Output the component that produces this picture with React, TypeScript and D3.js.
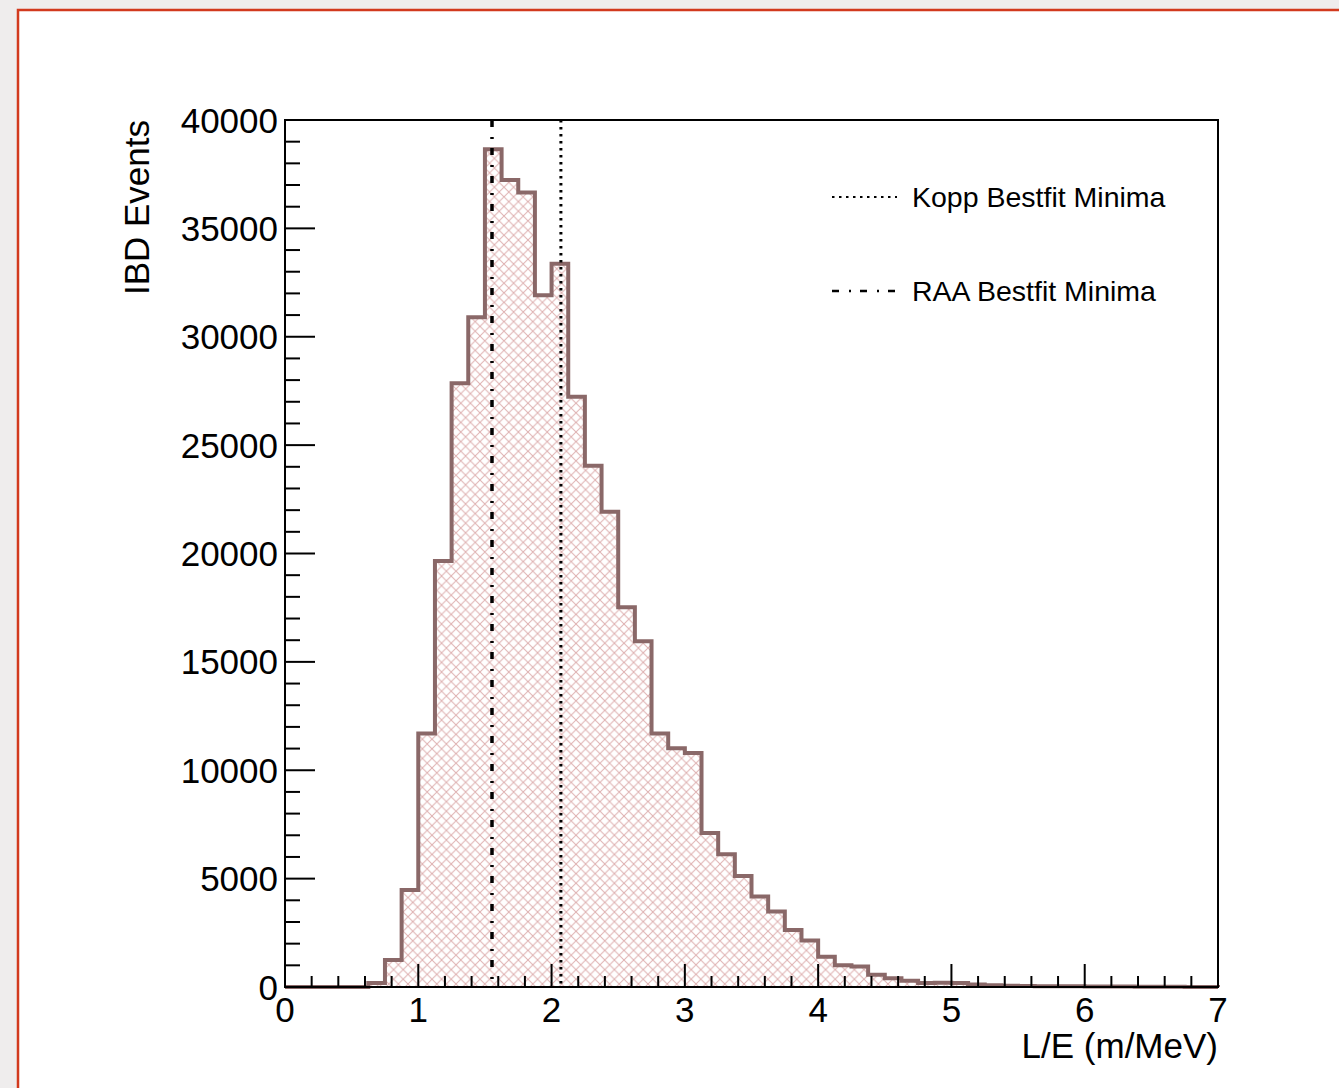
import React from "react";
import * as d3 from "d3";

// ---- data ----
const binLow = 0;
const binWidth = 0.125;
const counts: number[] = [
  0, 0, 0, 0, 0, 180, 1250, 4480, 11700, 19650, 27850, 30900, 38650, 37230,
  36650, 31920, 33370, 27230, 24050, 21930, 17520, 15950, 11700, 11010, 10800,
  7100, 6130, 5120, 4170, 3480, 2630, 2140, 1400, 1000, 950, 560, 400, 290,
  180, 200, 180, 120, 80, 60, 50, 40, 35, 30, 25, 20, 20, 15, 10, 10, 5, 5,
];
const xTicks = [0, 1, 2, 3, 4, 5, 6, 7];
const yTicks = [0, 5000, 10000, 15000, 20000, 25000, 30000, 35000, 40000];
const koppMin = 2.07;
const raaMin = 1.553;
const legendLabels = ["Kopp Bestfit Minima", "RAA Bestfit Minima"];

const W = 1339;
const H = 1088;
const F = { l: 285, r: 1218, t: 120, b: 987 };
const FONT = "'Liberation Sans', Arial, Helvetica, sans-serif";
const HIST = "#8a6868";
const HATCH = "#deb0b0";

export default function App() {
  const x = d3.scaleLinear().domain([0, 7]).range([F.l, F.r]);
  const y = d3.scaleLinear().domain([0, 40000]).range([F.b, F.t]);

  const pts: [number, number][] = [[0, 0]];
  counts.forEach((c, i) => {
    const lo = binLow + i * binWidth;
    pts.push([lo, c]);
    pts.push([lo + binWidth, c]);
  });
  pts.push([7, 0]);
  const line = d3
    .line<[number, number]>()
    .x((d) => x(d[0]))
    .y((d) => y(d[1]));
  const path = line(pts) || "";

  const xMinor = d3.range(0, 7.0001, 0.2).filter((v) => Math.abs(v - Math.round(v)) > 1e-6);
  const yMinor = d3.range(0, 40001, 1000).filter((v) => v % 5000 !== 0);

  const dashDot = "7 10 2 9";
  const dotted = "2.5 4.5";

  return (
    <svg
      width={W}
      height={H}
      style={{ position: "absolute", left: 0, top: 0, display: "block" }}
      fontFamily={FONT}
    >
      <defs>
        <pattern id="hatch" patternUnits="userSpaceOnUse" width={9.6} height={9.6}>
          <path d="M0,0 L9.6,9.6 M0,9.6 L9.6,0" stroke={HATCH} strokeWidth={1} />
        </pattern>
        <clipPath id="frameClip">
          <rect x={F.l} y={F.t} width={F.r - F.l} height={F.b - F.t} />
        </clipPath>
      </defs>
      <rect x={0} y={0} width={W} height={H} fill="#efeded" />
      <rect x={18} y={10} width={W + 20} height={H + 20} fill="#ffffff" stroke="#d23a1e" strokeWidth={2.5} />

      {/* frame */}
      <rect x={F.l} y={F.t} width={F.r - F.l} height={F.b - F.t} fill="none" stroke="#000" strokeWidth={2} />

      {/* histogram */}
      <path d={path + "Z"} fill="url(#hatch)" stroke="none" clipPath="url(#frameClip)" />
      <path d={path} fill="none" stroke={HIST} strokeWidth={4} strokeLinejoin="miter" />

      {/* vertical lines */}
      <line x1={x(raaMin)} x2={x(raaMin)} y1={F.t} y2={F.b} stroke="#000" strokeWidth={3.5} strokeDasharray={dashDot} />
      <line x1={x(koppMin)} x2={x(koppMin)} y1={F.t} y2={F.b} stroke="#000" strokeWidth={3} strokeDasharray={dotted} />

      {/* axes lines */}
      <line x1={F.l} x2={F.l} y1={F.t} y2={F.b} stroke="#000" strokeWidth={2} />
      <line x1={F.l} x2={F.r} y1={F.b} y2={F.b} stroke="#000" strokeWidth={2} />

      {/* x ticks */}
      {xTicks.map((t) => (
        <g key={"xt" + t}>
          <line x1={x(t)} x2={x(t)} y1={F.b} y2={F.b - 23} stroke="#000" strokeWidth={2} />
          <text x={x(t)} y={1022} fontSize={35} textAnchor="middle" fill="#000">
            {t}
          </text>
        </g>
      ))}
      {xMinor.map((t, i) => (
        <line key={"xm" + i} x1={x(t)} x2={x(t)} y1={F.b} y2={F.b - 11} stroke="#000" strokeWidth={2} />
      ))}

      {/* y ticks */}
      {yTicks.map((t) => (
        <g key={"yt" + t}>
          <line x1={F.l} x2={F.l + 30} y1={y(t)} y2={y(t)} stroke="#000" strokeWidth={2} />
          <text x={278} y={y(t) + 12.5} fontSize={35} textAnchor="end" fill="#000">
            {t}
          </text>
        </g>
      ))}
      {yMinor.map((t) => (
        <line key={"ym" + t} x1={F.l} x2={F.l + 15} y1={y(t)} y2={y(t)} stroke="#000" strokeWidth={2} />
      ))}

      {/* axis titles */}
      <text x={F.r} y={1058} fontSize={35} textAnchor="end" fill="#000">
        L/E (m/MeV)
      </text>
      <text
        transform={`translate(149, ${F.t}) rotate(-90)`}
        fontSize={35}
        textAnchor="end"
        fill="#000"
      >
        IBD Events
      </text>

      {/* legend */}
      <line x1={832} x2={897} y1={197} y2={197} stroke="#000" strokeWidth={2} strokeDasharray={dotted} />
      <text x={912} y={207} fontSize={28.5} fill="#000">
        {legendLabels[0]}
      </text>
      <line x1={832} x2={897} y1={291} y2={291} stroke="#000" strokeWidth={2.5} strokeDasharray={dashDot} />
      <text x={912} y={301} fontSize={28.5} fill="#000">
        {legendLabels[1]}
      </text>
    </svg>
  );
}
